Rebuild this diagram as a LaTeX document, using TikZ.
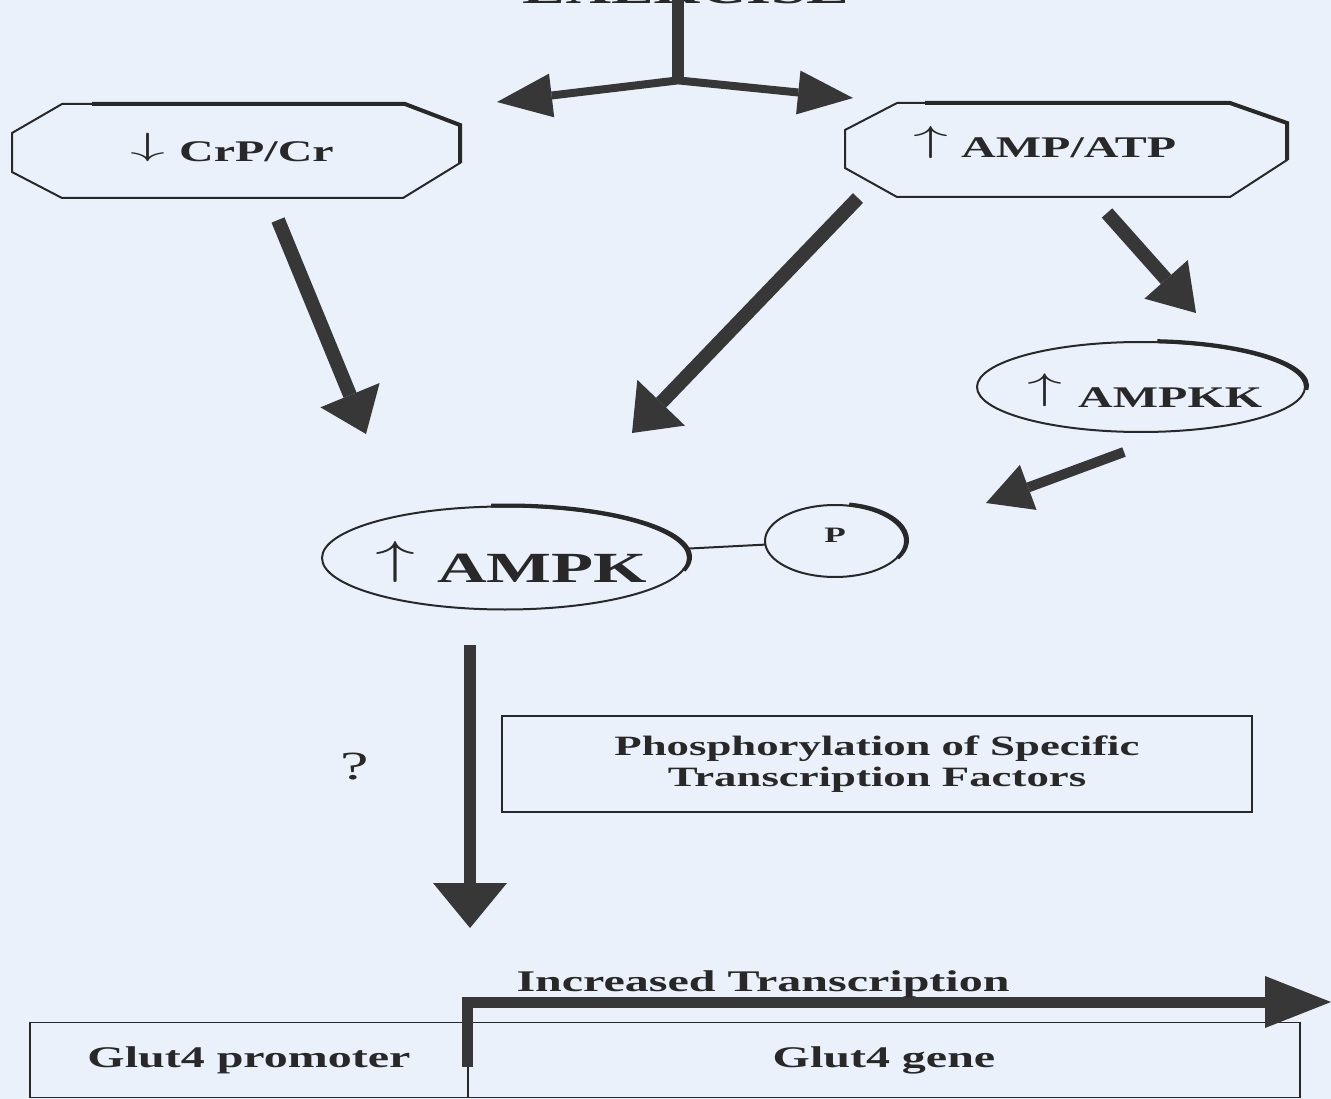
\documentclass[tikz,border=0pt]{standalone}
\usepackage{fontspec}
\usepackage{graphicx}
\setmainfont[FakeStretch=1.6]{Liberation Serif}
\usetikzlibrary{arrows.meta,shapes.geometric,calc}
\definecolor{bg}{RGB}{235,241,250}
\definecolor{ink}{RGB}{40,40,40}
\definecolor{fat}{RGB}{55,55,55}
\newcommand{\myup}[2]{\raisebox{#2\dimexpr 1.94pt\relax}{\scalebox{#1}[#2]{\fontsize{10}{12}\selectfont$\uparrow$}}}
\newcommand{\mydown}[2]{\raisebox{#2\dimexpr 1.94pt\relax}{\scalebox{#1}[#2]{\fontsize{10}{12}\selectfont$\downarrow$}}}
\begin{document}
\begin{tikzpicture}[x=1pt,y=-1pt,
  outline/.style={draw=ink, line width=2pt},
  shadowline/.style={draw=ink, line width=4pt},
  lbl/.style={font=\bfseries\fontsize{30}{34}\selectfont, text=ink, inner sep=0pt, anchor=base},
  lblw/.style={font=\bfseries\fontsize{30}{34}\selectfont, text=ink, inner sep=0pt, anchor=base west},
  holder/.style={inner sep=0pt, outer sep=0pt},
  oval/.style={ellipse, draw=ink, line width=2pt, inner sep=0pt, outer sep=0pt},
  fatline/.style={draw=fat, line width=#1},
]
\fill[bg] (0,0) rectangle (1331,1099);
\useasboundingbox (0,0) rectangle (1331,1099);

% title (cut off at the top edge)
\begin{scope}
\clip (0,0) rectangle (1331,1099);
\node[font=\bfseries\fontsize{40}{44}\selectfont, text=ink, inner sep=0pt, anchor=base] (ex) at (686,4) {EXERCISE};
\end{scope}

% top bar and split arrow
\node[fill=fat, minimum width=12pt, minimum height=80pt, inner sep=0pt, anchor=north] (bar) at (678,0) {};
\coordinate (lt) at (497,102);
\coordinate (rt) at (853,98);
\draw[fatline=8pt, {Triangle[length=55pt,width=44pt,line width=0pt]}-{Triangle[length=55pt,width=44pt,line width=0pt]}] (lt) -- (bar.south) -- (rt);

% left octagon
\node[holder, minimum width=448pt, minimum height=94pt] (crp) at (236,151) {};
\draw[outline] ([xshift=50pt]crp.north west) -- ([xshift=-55pt]crp.north east) -- ([yshift=-21pt]crp.north east)
  -- ([yshift=35pt]crp.south east) -- ([xshift=-57pt]crp.south east) -- ([xshift=50pt]crp.south west)
  -- ([yshift=26pt]crp.south west) -- ([yshift=-29pt]crp.north west) -- cycle;
\begin{scope}[shift={(1.5,-2)}]
\draw[shadowline] ([xshift=80pt]crp.north west) -- ([xshift=-55pt]crp.north east) -- ([yshift=-21pt]crp.north east) -- ([yshift=35pt]crp.south east);
\end{scope}
\node[lblw] (crpt) at (130,162) {\mydown{7}{3.2}\hspace{14pt}CrP/Cr};

% right octagon
\node[holder, minimum width=442pt, minimum height=94pt] (atp) at (1066,150) {};
\draw[outline] ([xshift=52pt]atp.north west) -- ([xshift=-57pt]atp.north east) -- ([yshift=-20pt]atp.north east)
  -- ([yshift=37pt]atp.south east) -- ([xshift=-57pt]atp.south east) -- ([xshift=52pt]atp.south west)
  -- ([yshift=29pt]atp.south west) -- ([yshift=-27pt]atp.north west) -- cycle;
\begin{scope}[shift={(1.5,-2)}]
\draw[shadowline] ([xshift=80pt]atp.north west) -- ([xshift=-57pt]atp.north east) -- ([yshift=-20pt]atp.north east) -- ([yshift=37pt]atp.south east);
\end{scope}
\node[lblw] (atpt) at (913,158) {\myup{7}{3.6}\hspace{13pt}AMP/ATP};

% AMPKK
\node[oval, minimum width=328pt, minimum height=90pt] (ampkk) at (1141,387) {};
\draw[shadowline] ([shift={(2pt,1pt)}]ampkk.center) ++(85:164pt and 45pt) arc[start angle=85, end angle=-5, x radius=164pt, y radius=45pt];
\node[lblw] (ampkkt) at (1027,407) {\myup{7}{3.7}\hspace{16pt}AMPKK};

% AMPK
\node[oval, minimum width=366pt, minimum height=103pt] (ampk) at (505,558) {};
\draw[shadowline] ([shift={(2pt,1pt)}]ampk.center) ++(95:183pt and 51.5pt) arc[start angle=95, end angle=-15, x radius=183pt, y radius=51.5pt];
\node[lblw, font=\bfseries\fontsize{43}{48}\selectfont] (ampkt) at (375,582) {\myup{8}{4.6}\hspace{22pt}AMPK};

% P
\node[oval, minimum width=140pt, minimum height=72pt] (p) at (835,541) {};
\draw[shadowline] ([shift={(2pt,1pt)}]p.center) ++(80:70pt and 36pt) arc[start angle=80, end angle=-30, x radius=70pt, y radius=36pt];
\node[lbl, font=\bfseries\fontsize{22}{26}\selectfont] (pt) at (835,542) {P};
\draw[outline] (ampk) -- (p);

% fat arrows
\coordinate (a1s) at (278,220); \coordinate (a1t) at (366,434);
\draw[fatline=14pt, -{Triangle[length=42pt,width=64pt,line width=0pt]}] (a1s) -- (a1t);
\coordinate (a2s) at (858,198); \coordinate (a2t) at (632,433);
\draw[fatline=14pt, -{Triangle[length=42pt,width=66pt,line width=0pt]}] (a2s) -- (a2t);
\coordinate (a3s) at (1107,213); \coordinate (a3t) at (1196,313);
\draw[fatline=14pt, -{Triangle[length=45pt,width=58pt,line width=0pt]}] (a3s) -- (a3t);
\coordinate (a4s) at (1124,452); \coordinate (a4t) at (986,503);
\draw[fatline=10pt, -{Triangle[length=45pt,width=48pt,line width=0pt]}] (a4s) -- (a4t);
\coordinate (vs) at (470,645); \coordinate (vt) at (470,928);
\draw[fatline=12pt, -{Triangle[length=45pt,width=74pt,line width=0pt]}] (vs) -- (vt);

\node[font=\fontsize{40}{44}\selectfont, text=ink, inner sep=0pt] (q) at (355,767) {?};

% phosphorylation box
\node[draw=ink, line width=2.5pt, minimum width=750pt, minimum height=96pt, inner sep=0pt, align=center,
  font=\bfseries\fontsize{28}{31}\selectfont, text=ink] (phos) at (877,764) {Phosphorylation of Specific\\Transcription Factors};

% gene boxes
\node[draw=ink, line width=1.5pt, minimum width=438pt, minimum height=75pt, inner sep=0pt,
  font=\bfseries\fontsize{30}{34}\selectfont, text=ink] (prom) at (249,1060) {Glut4 promoter};
\node[draw=ink, line width=1.5pt, minimum width=832pt, minimum height=75pt, inner sep=0pt,
  font=\bfseries\fontsize{30}{34}\selectfont, text=ink] (gene) at (884,1060) {Glut4 gene};
\coordinate (bt) at (1331,1002);
\draw[fatline=11pt, -{Triangle[length=66pt,width=52pt,line width=0pt]}] ([yshift=-7pt]gene.west) |- (bt);
\node[lbl] (inc) at (763,991) {Increased Transcription};
\end{tikzpicture}
\end{document}
